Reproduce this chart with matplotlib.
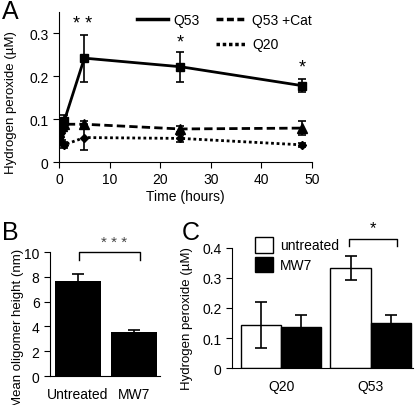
import matplotlib
matplotlib.use("Agg")
import matplotlib.pyplot as plt
from matplotlib.lines import Line2D
import numpy as np

plt.rcParams['font.family'] = ['Liberation Sans', 'DejaVu Sans']

# Panel A data
time_h = [0, 0.25, 0.5, 1, 5, 24, 48]
q53 = [0.065, 0.075, 0.085, 0.095, 0.242, 0.222, 0.178]
q53_err = [0.01, 0.01, 0.01, 0.015, 0.055, 0.035, 0.016]
q53cat = [0.07, 0.08, 0.085, 0.088, 0.088, 0.077, 0.079]
q53cat_err = [0.008, 0.008, 0.006, 0.005, 0.007, 0.006, 0.016]
q20 = [0.055, 0.05, 0.045, 0.04, 0.057, 0.055, 0.04]
q20_err = [0.006, 0.006, 0.006, 0.007, 0.03, 0.008, 0.004]
stars_a_x = [4.7, 24, 48]
stars_a_y = [0.322, 0.28, 0.222]
stars_a_txt = ['* *', '*', '*']

# Panel B data
b_cats = ['Untreated', 'MW7']
b_vals = [7.65, 3.55]
b_err = [0.6, 0.15]

# Panel C data
c_cats = ['Q20', 'Q53']
c_untreated = [0.143, 0.333]
c_untreated_err = [0.076, 0.04]
c_mw7 = [0.138, 0.15]
c_mw7_err = [0.037, 0.025]

fig = plt.figure(figsize=(4.16, 4.06), dpi=100)

# ---------- Panel A ----------
axA = fig.add_axes([0.142, 0.5985, 0.608, 0.37])
ek = dict(ecolor='black', elinewidth=1.2, capsize=3, capthick=1.2)
axA.errorbar(time_h, q53, yerr=q53_err, color='black', lw=2, ls='-', marker='s', ms=6, **ek)
axA.errorbar(time_h, q53cat, yerr=q53cat_err, color='black', lw=2, ls=(0, (3, 1.5)), marker='^', ms=6.5, **ek)
axA.errorbar(time_h, q20, yerr=q20_err, color='black', lw=2, ls=(0, (1, 1)), marker='D', ms=4.5, **ek)
for x, y, t in zip(stars_a_x, stars_a_y, stars_a_txt):
    axA.text(x, y, t, ha='center', va='center', fontsize=13)
axA.set_xlim(0, 50)
axA.set_ylim(0, 0.35)
axA.set_xticks([0, 10, 20, 30, 40, 50])
axA.set_yticks([0, 0.1, 0.2, 0.3])
axA.set_yticklabels(['0', '0.1', '0.2', '0.3'])
axA.spines['top'].set_visible(False)
axA.spines['right'].set_visible(False)
axA.tick_params(direction='out', length=4, labelsize=10)
axA.set_xlabel('Time (hours)', fontsize=10, labelpad=2)
axA.set_ylabel('Hydrogen peroxide (µM)', fontsize=9.5)
axA.yaxis.set_label_coords(-0.165, 0.4)
handles = [Line2D([], [], color='black', lw=2.5, ls='-'),
           Line2D([], [], color='none'),
           Line2D([], [], color='black', lw=2.5, ls=(0, (2, 1))),
           Line2D([], [], color='black', lw=2.5, ls=(0, (1, 0.8)))]
labels = ['Q53', '', 'Q53 +Cat', 'Q20']
axA.legend(handles, labels, ncol=2, frameon=False, loc='upper left',
           bbox_to_anchor=(0.26, 1.075), fontsize=10, handlelength=2.2,
           handletextpad=0.4, columnspacing=1.2, labelspacing=0.75)
fig.text(0.005, 1.0, 'A', fontsize=18, va='top', ha='left')

# ---------- Panel B ----------
axB = fig.add_axes([0.120, 0.0714, 0.265, 0.305])
xb = np.arange(len(b_cats))
axB.bar(xb, b_vals, width=0.82, color='black', yerr=b_err,
        error_kw=dict(ecolor='black', elinewidth=1.2, capsize=4, capthick=1.2))
axB.set_xlim(-0.5, 1.46)
axB.set_ylim(0, 10)
axB.set_yticks([0, 2, 4, 6, 8, 10])
axB.set_xticks(xb)
axB.set_xticklabels(b_cats)
axB.tick_params(axis='x', length=0, labelsize=10, pad=8)
axB.tick_params(axis='y', direction='out', length=4, labelsize=10)
axB.spines['top'].set_visible(False)
axB.spines['right'].set_visible(False)
axB.set_ylabel('Mean oligomer height (nm)', fontsize=9.5)
axB.yaxis.set_label_coords(-0.235, 0.4)
axB.plot([0.02, 0.02, 1.11, 1.11], [9.4, 10.0, 10.0, 9.4], color='black', lw=1, clip_on=False)
axB.text(0.64, 10.85, '* * *', ha='center', va='center', fontsize=11, color='#444444')
fig.text(0.005, 0.455, 'B', fontsize=18, va='top', ha='left')

# ---------- Panel C ----------
axC = fig.add_axes([0.558, 0.091, 0.435, 0.296])
xc = np.arange(len(c_cats))
w = 0.45
ekc = dict(ecolor='black', elinewidth=1.2, capsize=4, capthick=1.2)
axC.bar(xc - w / 2, c_untreated, width=w, color='white', edgecolor='black', lw=1,
        yerr=c_untreated_err, error_kw=ekc, label='untreated')
axC.bar(xc + w / 2, c_mw7, width=w, color='black', edgecolor='black', lw=1,
        yerr=c_mw7_err, error_kw=ekc, label='MW7')
axC.set_xlim(-0.55, 1.475)
axC.set_ylim(0, 0.4)
axC.set_yticks([0, 0.1, 0.2, 0.3, 0.4])
axC.set_yticklabels(['0', '0.1', '0.2', '0.3', '0.4'])
axC.set_xticks(xc)
axC.set_xticklabels(c_cats)
axC.tick_params(axis='x', length=0, labelsize=10, pad=8)
axC.tick_params(axis='y', direction='out', length=4, labelsize=10)
axC.spines['top'].set_visible(False)
axC.spines['right'].set_visible(False)
axC.set_ylabel('Hydrogen peroxide (µM)', fontsize=9.5)
axC.yaxis.set_label_coords(-0.215, 0.42)
axC.legend(loc='upper left', bbox_to_anchor=(0.08, 1.16), frameon=False, fontsize=10,
           handlelength=1.3, handleheight=1.35, handletextpad=0.5, labelspacing=0.3,
           borderaxespad=0.2)
axC.plot([0.76, 0.76, 1.296, 1.296], [0.407, 0.43, 0.43, 0.407], color='black', lw=1, clip_on=False)
axC.text(1.03, 0.468, '*', ha='center', va='center', fontsize=12, clip_on=False)
fig.text(0.437, 0.455, 'C', fontsize=18, va='top', ha='left')

fig.savefig('out.png', dpi=100)
